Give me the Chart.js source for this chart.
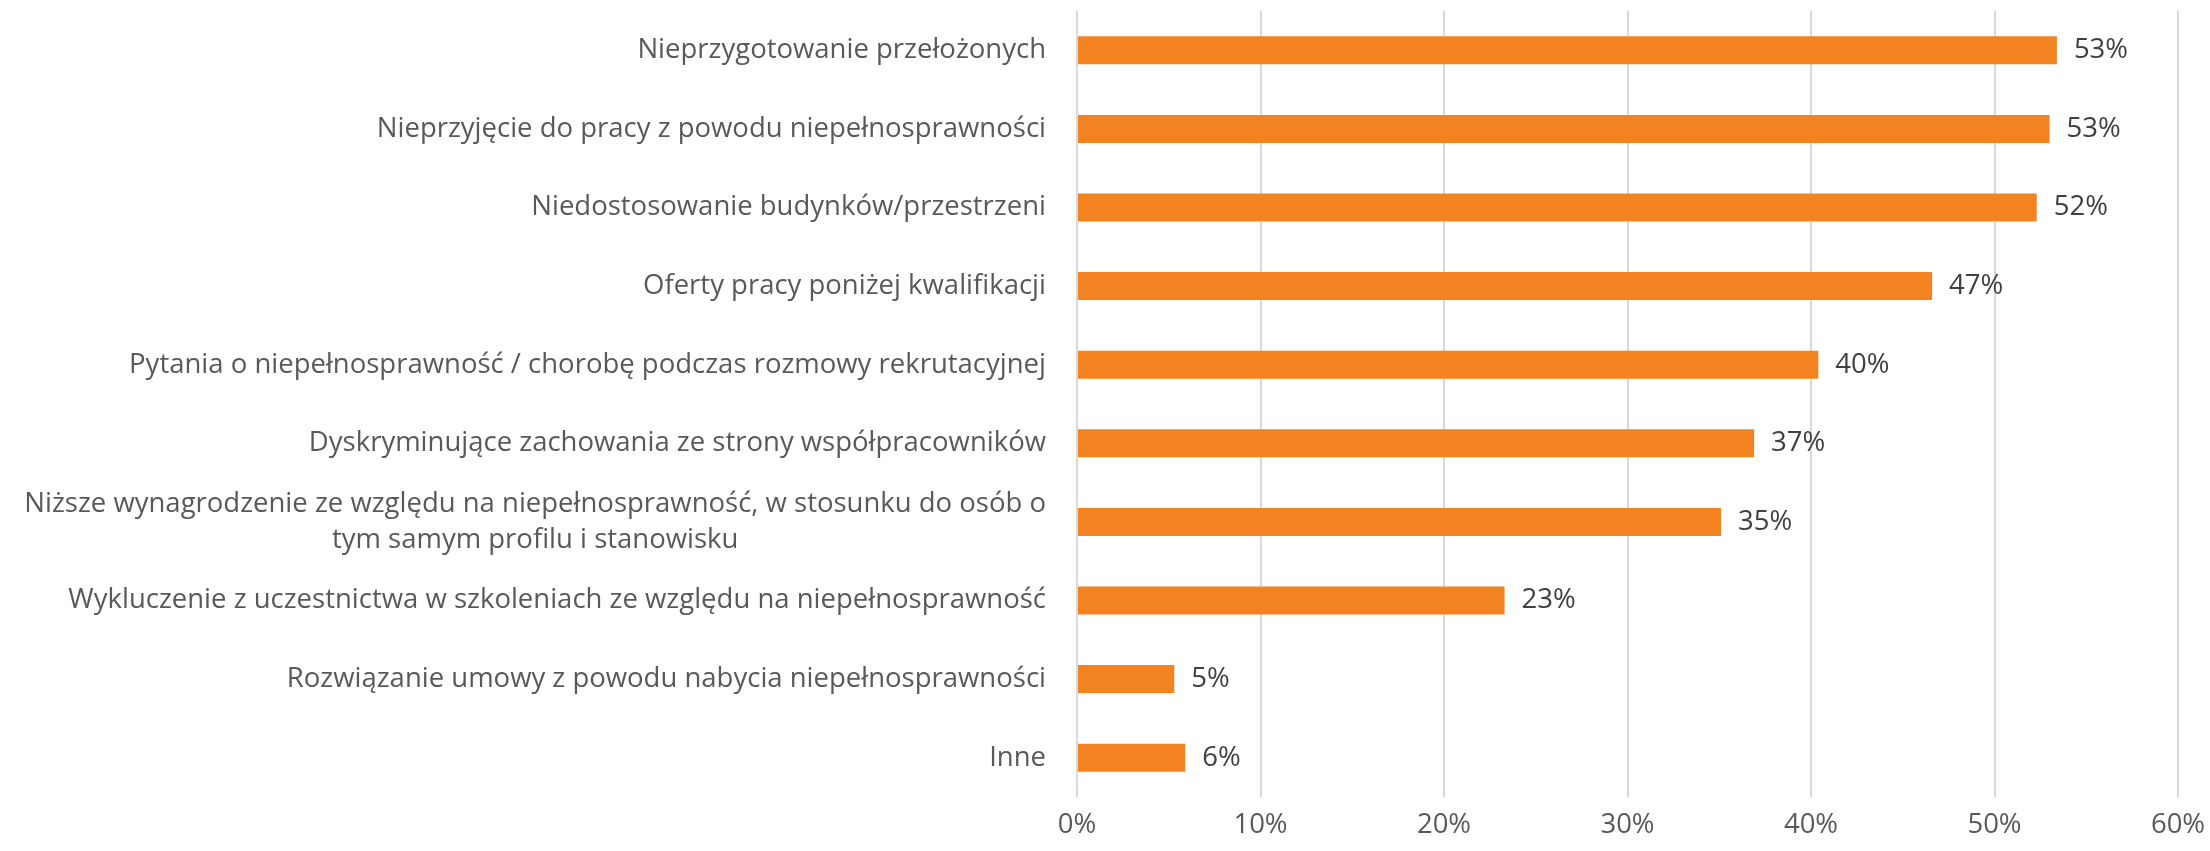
<!DOCTYPE html>
<html>
<head>
<meta charset="utf-8">
<script src="https://cdn.jsdelivr.net/npm/chart.js@4"></script>
<style>
  html, body { margin: 0; padding: 0; background: #ffffff; }
  #wrap { width: 2210px; height: 851px; }
</style>
</head>
<body>
<div id="wrap"><canvas id="c" width="2210" height="851"></canvas></div>
<script>
const categories = [
  "Nieprzygotowanie przełożonych",
  "Nieprzyjęcie do pracy z powodu niepełnosprawności",
  "Niedostosowanie budynków/przestrzeni",
  "Oferty pracy poniżej kwalifikacji",
  "Pytania o niepełnosprawność / chorobę podczas rozmowy rekrutacyjnej",
  "Dyskryminujące zachowania ze strony współpracowników",
  ["Niższe wynagrodzenie ze względu na niepełnosprawność, w stosunku do osób o", "tym samym profilu i stanowisku"],
  "Wykluczenie z uczestnictwa w szkoleniach ze względu na niepełnosprawność",
  "Rozwiązanie umowy z powodu nabycia niepełnosprawności",
  "Inne"
];
const values = [53.4, 53.0, 52.3, 46.6, 40.4, 36.9, 35.1, 23.3, 5.3, 5.9];
const xTicks = [0, 10, 20, 30, 40, 50, 60];

const FONT_FAMILY = "'Open Sans', 'Noto Sans', sans-serif";
const FONT_SIZE = 27.5;

const yLabelPlugin = {
  id: 'yLabels',
  afterDraw(chart) {
    const ctx = chart.ctx;
    const yScale = chart.scales.y;
    const right = chart.chartArea.left - 31;
    ctx.save();
    ctx.font = FONT_SIZE + "px " + FONT_FAMILY;
    ctx.fillStyle = '#595959';
    ctx.textBaseline = 'middle';
    chart.data.labels.forEach((lab, i) => {
      const y = yScale.getPixelForValue(i);
      if (Array.isArray(lab)) {
        const lh = 36;
        const w1 = ctx.measureText(lab[0]).width;
        const center = right - w1 / 2;
        const top = y - (lab.length - 1) * lh / 2;
        lab.forEach((line, k) => {
          ctx.textAlign = 'center';
          ctx.fillText(line, center, top + k * lh);
        });
      } else {
        ctx.textAlign = 'right';
        ctx.fillText(lab, right, y);
      }
    });
    ctx.restore();
  }
};

const valueLabelPlugin = {
  id: 'valueLabels',
  afterDatasetsDraw(chart) {
    const ctx = chart.ctx;
    const meta = chart.getDatasetMeta(0);
    ctx.save();
    ctx.font = FONT_SIZE + "px " + FONT_FAMILY;
    ctx.fillStyle = '#404040';
    ctx.textAlign = 'left';
    ctx.textBaseline = 'middle';
    meta.data.forEach((bar, i) => {
      const v = chart.data.datasets[0].data[i];
      ctx.fillText(Math.round(v) + '%', bar.x + 17, bar.y);
    });
    ctx.restore();
  }
};

new Chart(document.getElementById('c'), {
  type: 'bar',
  data: {
    labels: categories,
    datasets: [{
      data: values,
      backgroundColor: '#F38221',
      borderWidth: 0,
      barPercentage: 0.356,
      categoryPercentage: 1.0
    }]
  },
  options: {
    indexAxis: 'y',
    responsive: false,
    animation: false,
    devicePixelRatio: 1,
    layout: { padding: { top: 11, right: 32, left: 0, bottom: 0 } },
    plugins: {
      legend: { display: false },
      tooltip: { enabled: false }
    },
    scales: {
      x: {
        min: 0,
        max: 60,
        afterBuildTicks(scale) {
          scale.ticks = xTicks.map(v => ({ value: v }));
        },
        ticks: {
          callback: v => v + '%',
          color: '#595959',
          font: { family: FONT_FAMILY, size: FONT_SIZE },
          padding: 12,
          maxRotation: 0,
          autoSkip: false
        },
        grid: { color: '#D9D9D9', lineWidth: 2, drawTicks: false },
        border: { display: false },
        afterFit(scale) {
          scale.height = 54;
          scale.paddingLeft = 0;
          scale.paddingRight = 0;
        }
      },
      y: {
        ticks: { display: false },
        grid: { display: false },
        border: { display: false },
        afterFit(scale) { scale.width = 1077; }
      }
    }
  },
  plugins: [yLabelPlugin, valueLabelPlugin]
});
</script>
</body>
</html>
